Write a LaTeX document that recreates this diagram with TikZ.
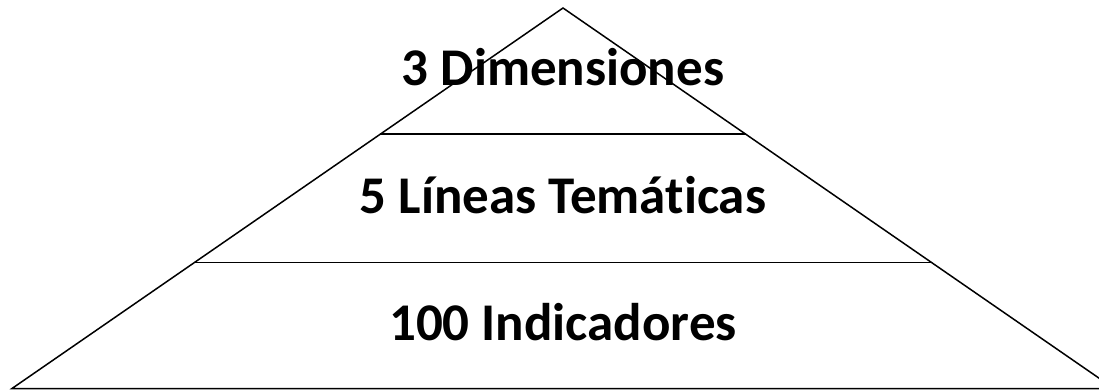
\documentclass[tikz,border=0pt]{standalone}
\usepackage{fontspec}
\setmainfont{Carlito}[Ligatures=NoCommon]
\usetikzlibrary{calc}

\tikzset{
	lvl/.style={anchor=base, inner sep=0pt, font=\fontsize{53}{60}\selectfont\bfseries},
	edge/.style={line width=1.5pt, line join=miter}
}

\begin{document}
\begin{tikzpicture}[x=1pt,y=-1pt]
	\useasboundingbox (0,0) rectangle (1099,390);
	\coordinate (top) at (563,8);
	\coordinate (bl) at (12,388.5);
	\coordinate (br) at (1114,388.5);
	\coordinate (l1) at ($(top)!0.3316!(bl)$);
	\coordinate (r1) at ($(top)!0.3316!(br)$);
	\coordinate (l2) at ($(top)!0.6684!(bl)$);
	\coordinate (r2) at ($(top)!0.6684!(br)$);
	\draw[edge] (top) -- (bl) -- (br) -- cycle;
	\draw[edge] (l1) -- (r1);
	\draw[edge] (l2) -- (r2);
	\node[lvl] (dim) at (563,86) {3 Dimensiones};
	\node[lvl] (lin) at (563,213) {5 Líneas Temáticas};
	\node[lvl] (ind) at (563,340) {100 Indicadores};
\end{tikzpicture}
\end{document}
